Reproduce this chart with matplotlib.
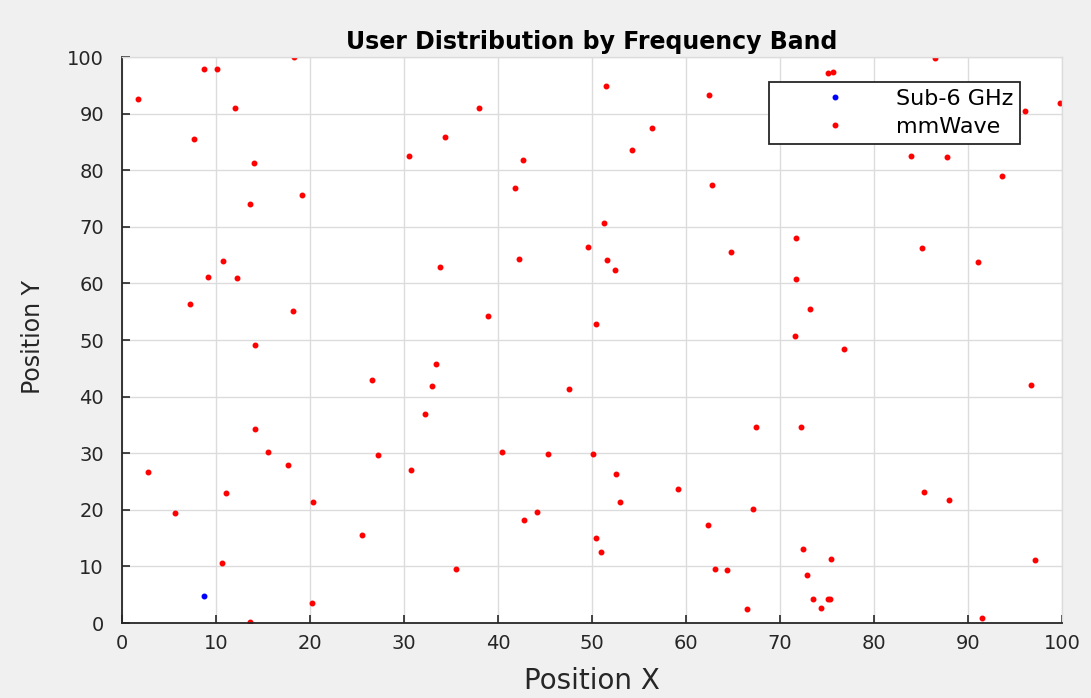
import matplotlib
matplotlib.use("Agg")
from matplotlib import pyplot as plt

plt.rcParams['font.family'] = ['DejaVu Sans']

# Sub-6 GHz users
sub6_x = [8.7]
sub6_y = [4.8]

# mmWave users
mmw_x = [1.7, 8.7, 10.1, 18.3, 12.0, 7.7, 14.0, 19.1, 13.6, 10.8,
         9.2, 12.2, 7.2, 18.2, 38.9, 30.5, 34.4, 38.0, 42.7, 41.8,
         42.2, 33.8, 51.5, 62.5, 56.4, 54.3, 62.8, 51.3, 49.6, 51.6,
         52.5, 64.8, 71.7, 71.7, 73.2, 71.6, 50.4, 75.1, 75.6, 86.5,
         83.9, 87.8, 96.1, 99.8, 93.6, 85.1, 91.1, 14.1, 26.6, 33.4,
         33.0, 47.6, 32.2, 14.2, 15.5, 17.7, 2.8, 27.2, 30.7, 40.4,
         45.3, 11.1, 5.6, 20.3, 25.5, 44.1, 42.8, 10.6, 35.5, 20.2,
         13.6, 76.8, 96.7, 67.5, 72.2, 50.1, 52.6, 53.0, 59.2, 85.3,
         88.0, 67.1, 62.3, 50.4, 51.0, 72.4, 75.4, 97.1, 63.1, 64.4,
         72.9, 73.5, 75.1, 75.3, 74.4, 66.5, 91.5]
mmw_y = [92.6, 97.9, 97.9, 100.0, 91.0, 85.6, 81.3, 75.6, 74.1, 64.0,
         61.2, 61.0, 56.4, 55.1, 54.3, 82.5, 85.8, 91.0, 81.8, 76.9,
         64.4, 62.9, 94.9, 93.3, 87.5, 83.6, 77.4, 70.7, 66.5, 64.1,
         62.3, 65.5, 68.1, 60.7, 55.5, 50.8, 52.8, 97.2, 97.4, 99.9,
         82.6, 82.4, 90.4, 91.8, 78.9, 66.2, 63.7, 49.1, 43.0, 45.8,
         41.8, 41.4, 37.0, 34.2, 30.3, 28.0, 26.6, 29.7, 27.1, 30.3,
         29.9, 23.0, 19.4, 21.3, 15.5, 19.7, 18.2, 10.6, 9.5, 3.6,
         0.2, 48.5, 42.1, 34.7, 34.7, 29.9, 26.3, 21.3, 23.7, 23.1,
         21.7, 20.2, 17.4, 15.1, 12.6, 13.0, 11.4, 11.1, 9.5, 9.4,
         8.5, 4.3, 4.2, 4.2, 2.7, 2.4, 0.9]

fig = plt.figure(figsize=(10.91, 6.98), dpi=100, facecolor='#f0f0f0')
ax = fig.add_axes([0.1118, 0.1074, 0.8616, 0.8109])
ax.set_facecolor('white')

ax.plot(sub6_x, sub6_y, '.', color='blue', markersize=6.5, label='Sub-6 GHz')
ax.plot(mmw_x, mmw_y, '.', color='red', markersize=6.5, label='mmWave')

ax.set_xlim(0, 100)
ax.set_ylim(0, 100)
ax.set_xticks(range(0, 101, 10))
ax.set_yticks(range(0, 101, 10))
ax.grid(True, color='#dcdcdc', linewidth=1.0)
ax.set_axisbelow(True)
ax.tick_params(direction='in', length=6, width=1.2, labelsize=14, colors='#262626')
ax.tick_params(axis='x', pad=8)
ax.tick_params(axis='y', pad=13)
for side in ['left', 'bottom']:
    ax.spines[side].set_color('#262626')
    ax.spines[side].set_linewidth(1.3)
for side in ['top', 'right']:
    ax.spines[side].set_color('#dcdcdc')
    ax.spines[side].set_linewidth(1.0)

ax.set_xlabel('Position X', fontsize=20, color='#262626')
ax.set_ylabel('Position Y', fontsize=17, color='#262626')
ax.xaxis.set_label_coords(0.5, -0.078)
ax.yaxis.set_label_coords(-0.082, 0.505)
ax.set_title('User Distribution by Frequency Band', fontsize=17, fontweight='bold', pad=6)

leg = ax.legend(loc='upper right', bbox_to_anchor=(0.9553, 0.9558), fontsize=16,
                frameon=True, fancybox=False, edgecolor='#262626', framealpha=1,
                handlelength=5.3, handletextpad=0.1, borderpad=0.3, labelspacing=0.38,
                borderaxespad=0, markerscale=1.0)
leg.get_frame().set_linewidth(1.3)

fig.savefig('out.png', dpi=100, facecolor=fig.get_facecolor())
